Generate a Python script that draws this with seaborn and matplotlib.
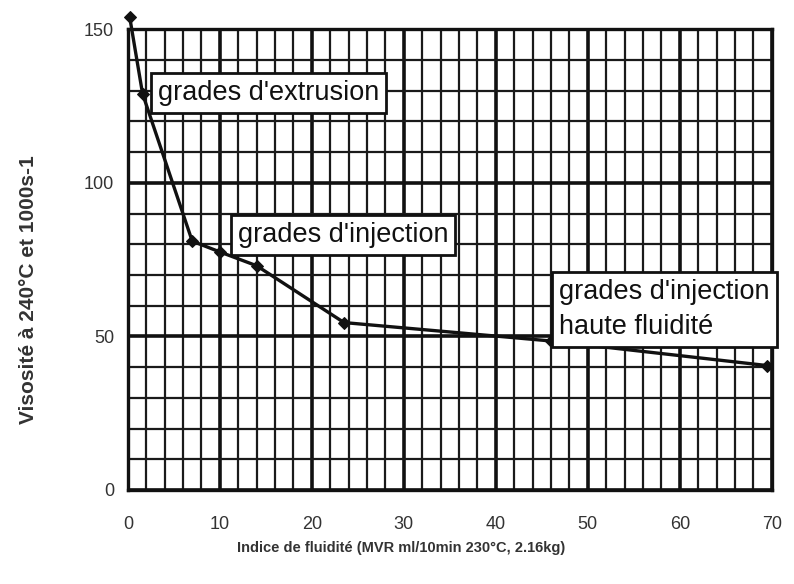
# Viscosité vs indice de fluidité (grades d'extrusion / injection)

import numpy as np
import pandas as pd
import matplotlib
matplotlib.use("Agg")
import matplotlib.pyplot as plt
from matplotlib.ticker import MultipleLocator
import seaborn as sns

mvr = [0.2, 1.6, 7.0, 10.0, 14.0, 23.5, 46.0, 69.5]
viscosity = [154, 129, 81, 77.5, 73, 54.5, 48.5, 40.5]

x_ticks = [0, 10, 20, 30, 40, 50, 60, 70]
y_ticks = [0, 50, 100, 150]

labels = ["grades d'extrusion", "grades d'injection", "grades d'injection\nhaute fluidité"]
label_pos = [(3.3, 129.3), (12.0, 83), (46.9, 58.7)]

sns.set_style("white")
plt.rcParams['font.family'] = ['Liberation Sans', 'DejaVu Sans']

df = pd.DataFrame(dict(mvr=mvr, visc=viscosity))

fig = plt.figure(figsize=(7.94, 5.84), dpi=100)
ax = fig.add_axes([0.161, 0.161, 0.811, 0.789])

ax.set_xlim(0, 70)
ax.set_ylim(0, 150)
ax.xaxis.set_minor_locator(MultipleLocator(2))
ax.yaxis.set_minor_locator(MultipleLocator(10))
ax.grid(which='minor', color='#1a1a1a', lw=1.6)
ax.grid(which='major', color='#111111', lw=2.6)
ax.set_axisbelow(True)
for s in ax.spines.values():
    s.set_color('#111111')
    s.set_linewidth(2.4)

sns.lineplot(data=df, x='mvr', y='visc', ax=ax, color='#111111', lw=2.4,
             marker='D', markersize=6, markeredgecolor='#111111', clip_on=False, zorder=5)

ax.set_xticks(x_ticks)
ax.set_yticks(y_ticks)
ax.tick_params(axis='both', which='major', length=5, width=2, color='#222222',
               labelsize=13, labelcolor='#333333')
ax.tick_params(axis='x', pad=14)
ax.tick_params(axis='y', pad=5)
ax.tick_params(which='minor', length=0)

for txt, (x, y) in zip(labels, label_pos):
    ax.text(x, y, txt, fontsize=19.5, va='center', ha='left', color='#111111', zorder=6,
            linespacing=1.45,
            bbox=dict(boxstyle='square,pad=0.25', fc='white', ec='#111111', lw=2))

ax.set_xlabel("Indice de fluidité (MVR ml/10min 230°C, 2.16kg)", fontsize=10.5,
              fontweight='bold', color='#333333')
ax.xaxis.set_label_coords(0.425, -0.11)
ax.set_ylabel("Visosité à 240°C et 1000s-1", fontsize=15, fontweight='bold',
              color='#333333')
ax.yaxis.set_label_coords(-0.14, 0.434)

fig.savefig("out.png", dpi=100)
